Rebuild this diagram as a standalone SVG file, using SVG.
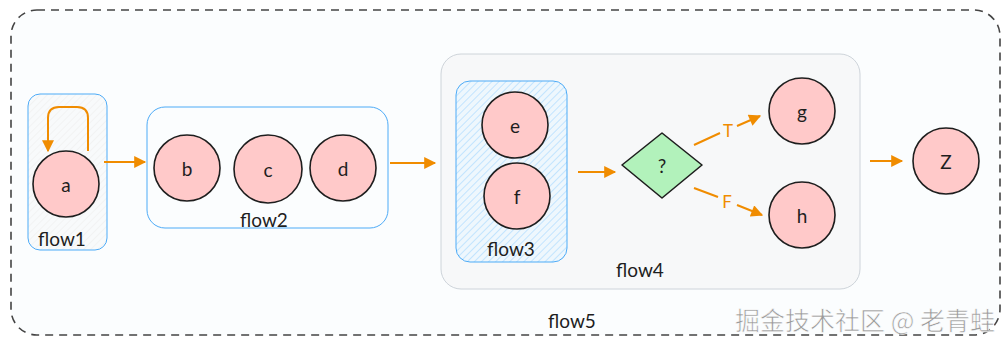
<svg xmlns="http://www.w3.org/2000/svg" width="1008" height="346" viewBox="0 0 1008 346">
<style>
.lbl{font-family:"Lato","Liberation Sans",sans-serif;font-size:19px;fill:#1e1e1e;text-anchor:middle;dominant-baseline:central}
.node circle{fill:#ffc9c9;stroke:#1e1e1e;stroke-width:1.6}
.grp{stroke:#4dabf7;stroke-width:1;fill:none}
.edge{stroke:#f08c00;stroke-width:2;fill:none}
.elbl{font-family:"Lato","Liberation Sans",sans-serif;font-size:17px;fill:#f08c00;text-anchor:middle;dominant-baseline:central}
</style>
<defs>
<marker id="ah" viewBox="0 0 10 10" refX="9" refY="5" markerWidth="13" markerHeight="12" orient="auto-start-reverse" markerUnits="userSpaceOnUse">
<path d="M0,0 L10,5 L0,10 z" fill="#f08c00"/>
</marker>
<pattern id="hatchBlue" width="5" height="5" patternUnits="userSpaceOnUse" patternTransform="rotate(45)">
<rect width="5" height="5" fill="#eef7fd"/>
<line x1="0" y1="0" x2="0" y2="5" stroke="#a5d8ff" stroke-width="1.2"/>
</pattern>
<pattern id="hatchGrey" width="5" height="5" patternUnits="userSpaceOnUse" patternTransform="rotate(45)">
<rect width="5" height="5" fill="#f8fafb"/>
<line x1="0" y1="0" x2="0" y2="5" stroke="#ececec" stroke-width="1"/>
</pattern>
</defs>
<rect width="1008" height="346" fill="#ffffff"/>
<g id="flow5">
<rect x="11" y="10" width="989" height="325" rx="26" fill="#fbfdfe" stroke="#444" stroke-width="1.6" stroke-dasharray="8 6"/>
<text class="lbl" x="572" y="320">flow5</text>
</g>
<g id="flow1">
<rect class="grp" x="28" y="94" width="79" height="156" rx="12" style="fill:url(#hatchGrey)"/>
<text class="lbl" x="62" y="238">flow1</text>
</g>
<g id="flow2">
<rect class="grp" x="147" y="107" width="241" height="121" rx="18" style="fill:#fbfdfe"/>
<text class="lbl" x="264" y="219">flow2</text>
</g>
<g id="flow4">
<rect x="441" y="54" width="419" height="235" rx="20" fill="#f7f8f9" stroke="#ced4da" stroke-width="1"/>
<text class="lbl" x="640" y="269">flow4</text>
</g>
<g id="flow3">
<rect class="grp" x="456" y="81" width="111" height="181" rx="14" style="fill:url(#hatchBlue)"/>
<text class="lbl" x="511" y="248">flow3</text>
</g>
<g id="a" class="node"><circle cx="66" cy="184" r="33"/><text class="lbl" x="66" y="184">a</text></g>
<g id="b" class="node"><circle cx="187" cy="168" r="33"/><text class="lbl" x="187" y="168">b</text></g>
<g id="c" class="node"><circle cx="268" cy="169" r="34"/><text class="lbl" x="268" y="169">c</text></g>
<g id="d" class="node"><circle cx="343" cy="168" r="33"/><text class="lbl" x="343" y="168">d</text></g>
<g id="e" class="node"><circle cx="515" cy="125" r="33"/><text class="lbl" x="515" y="125">e</text></g>
<g id="f" class="node"><circle cx="517" cy="196" r="33"/><text class="lbl" x="517" y="196">f</text></g>
<g id="decision"><path d="M662,133 L702,165 L662,198 L622,165 Z" fill="#b2f2bb" stroke="#1e1e1e" stroke-width="1.6" stroke-linejoin="round"/><text class="lbl" x="662" y="165">?</text></g>
<g id="g" class="node"><circle cx="802" cy="111" r="33"/><text class="lbl" x="802" y="111">g</text></g>
<g id="h" class="node"><circle cx="802" cy="215" r="33"/><text class="lbl" x="802" y="215">h</text></g>
<g id="z" class="node"><circle cx="946" cy="161" r="33"/><text class="lbl" x="946" y="161">Z</text></g>
<g id="connectors">
<path class="edge" d="M88,151 L88,118 Q88,107 77,107 L59,107 Q48,107 48,118 L48,151" marker-end="url(#ah)"/>
<path class="edge" d="M104,162 L145,162" marker-end="url(#ah)"/>
<path class="edge" d="M390,163 L435,163" marker-end="url(#ah)"/>
<path class="edge" d="M578,172 L615,172" marker-end="url(#ah)"/>
<path class="edge" d="M694,145 L720,133 M737,126 L760,116" marker-end="url(#ah)"/>
<text class="elbl" x="728" y="130">T</text>
<path class="edge" d="M694,188 L718,197 M737,205 L762,215" marker-end="url(#ah)"/>
<text class="elbl" x="727" y="201">F</text>
<path class="edge" d="M870,161 L902,161" marker-end="url(#ah)"/>
</g>
<text x="865" y="319" font-family="'Noto Sans CJK SC',sans-serif" font-size="25" fill="#9a9a9a" stroke="#ffffff" stroke-width="0.6" text-anchor="middle" dominant-baseline="central">掘金技术社区 @ 老青蛙</text>
</svg>
